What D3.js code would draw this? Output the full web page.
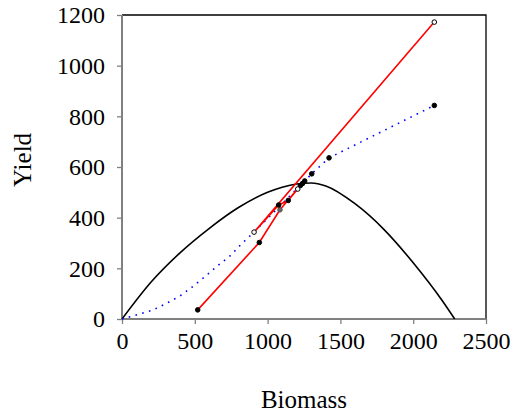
<!DOCTYPE html>
<html>
<head>
<meta charset="utf-8">
<script src="https://cdn.jsdelivr.net/npm/d3@7"></script>
<style>
  body { margin: 0; background: #fff; }
  svg text { font-family: "Liberation Serif", "Times New Roman", serif !important; fill: #000; }
</style>
</head>
<body>
<svg width="515" height="416"></svg>
<script>
// production curve (black)
var curveX = [0, 200, 400, 600, 800, 1000, 1100, 1200, 1300, 1400, 1600, 1800, 2000, 2200, 2285];
var curveY = [0, 146, 262, 358, 440, 500, 520, 533, 537, 525, 455, 353, 222, 72, 0];

// fitted trend (blue dotted)
var trendX = [0, 124, 215, 307, 398, 479, 570, 650, 742, 822, 907, 1303, 1422, 2145];
var trendY = [0, 20, 36, 62, 91, 125, 167, 207, 249, 297, 343, 573, 636, 843];

// observed path (red), in order
var pathX = [520, 943, 1085, 1225, 1240, 1255, 1207, 1142, 1076, 907, 2145];
var pathY = [36, 302, 431, 527, 535, 545, 513, 468, 450, 343, 1172];

// extra points on trend
var extraX = [1303, 1422, 2145];
var extraY = [573, 636, 843];

var xTicks = [0, 500, 1000, 1500, 2000, 2500];
var yTicks = [0, 200, 400, 600, 800, 1000, 1200];

var svg = d3.select("svg");
var x = d3.scaleLinear().domain([0, 2500]).range([122, 486]);
var y = d3.scaleLinear().domain([0, 1200]).range([319, 15]);

function zip(xs, ys) {
  return xs.map(function(v, i) { return [v, ys[i]]; });
}

var line = d3.line()
  .x(function(d) { return x(d[0]); })
  .y(function(d) { return y(d[1]); });

// frame: top + right black
svg.append("path")
  .attr("d", "M" + x(0) + "," + y(1200) + "H" + x(2500) + "V" + y(0))
  .attr("fill", "none")
  .attr("stroke", "#000")
  .attr("stroke-width", 1.3);

var xAxis = svg.append("g")
  .attr("transform", "translate(0," + y(0) + ")")
  .call(d3.axisBottom(x).tickValues(xTicks).tickSize(5).tickPadding(8).tickFormat(d3.format("d")));
var yAxis = svg.append("g")
  .attr("transform", "translate(" + x(0) + ",0)")
  .call(d3.axisLeft(y).tickValues(yTicks).tickSize(5).tickPadding(12).tickFormat(d3.format("d")));

[xAxis, yAxis].forEach(function(a) {
  a.attr("font-family", null);
  a.select(".domain").attr("stroke", "#808080").attr("stroke-width", 2);
  a.selectAll(".tick line").attr("stroke", "#808080").attr("stroke-width", 1.3);
  a.selectAll(".tick text")
    .style("font-family", "'Liberation Serif', serif")
    .style("font-size", "24px")
    .attr("fill", "#000");
});
xAxis.select(".domain").attr("d", "M" + x(0) + ",0H" + x(2500));
yAxis.select(".domain").attr("d", "M0," + y(0) + "V" + y(1200));

svg.append("path")
  .datum(zip(curveX, curveY))
  .attr("d", line.curve(d3.curveMonotoneX))
  .attr("fill", "none")
  .attr("stroke", "#000")
  .attr("stroke-width", 1.6);

line.curve(d3.curveLinear);

svg.append("path")
  .datum(zip(trendX, trendY))
  .attr("d", line)
  .attr("fill", "none")
  .attr("stroke", "#0000ff")
  .attr("stroke-width", 1.6)
  .attr("stroke-dasharray", "1.6,5.4");

svg.append("path")
  .datum(zip(pathX, pathY))
  .attr("d", line)
  .attr("fill", "none")
  .attr("stroke", "#ff0000")
  .attr("stroke-width", 1.6);

var pts = zip(pathX, pathY).concat(zip(extraX, extraY));
svg.append("g").selectAll("circle")
  .data(pts)
  .enter().append("circle")
  .attr("cx", function(d) { return x(d[0]); })
  .attr("cy", function(d) { return y(d[1]); })
  .attr("r", 2.3)
  .attr("fill", function(d) {
    if (d[0] == 907 || d[0] == 1207 || d[1] == 1172) return "#fff";
    if (d[0] == 1085) return "#666";
    return "#000";
  })
  .attr("stroke", function(d) { return d[0] == 1085 ? "#555" : "#000"; })
  .attr("stroke-width", 1);

svg.append("text")
  .attr("x", 304)
  .attr("y", 408)
  .attr("text-anchor", "middle")
  .style("font-size", "25px")
  .text("Biomass");

svg.append("text")
  .attr("transform", "translate(31,160) rotate(-90)")
  .attr("text-anchor", "middle")
  .style("font-size", "25px")
  .text("Yield");
</script>
</body>
</html>
